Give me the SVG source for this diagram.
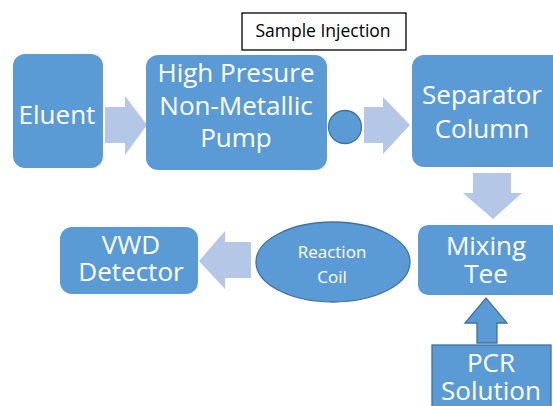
<svg xmlns="http://www.w3.org/2000/svg" width="553" height="406" viewBox="0 0 553 406">
  <style>
    .box { fill: #5b9bd5; }
    .edged { fill: #5b9bd5; stroke: #41719c; stroke-width: 1.3; }
    .flow { fill: #b4c7e7; }
    .lbl { font-family: "Open Sans", "Liberation Sans", sans-serif; font-size: 26px; fill: #ffffff; text-anchor: middle; }
    .tight { font-size: 25px; }
    .small { font-size: 17px; }
    .note { font-family: "Open Sans", "Liberation Sans", sans-serif; font-size: 17.5px; fill: #000000; text-anchor: middle; }
  </style>
  <rect width="553" height="406" fill="#ffffff"/>

  <g id="connectors">
    <!-- Eluent -> Pump -->
    <polygon class="flow" points="105,107 125,107 125,96 147,125 125,155 125,143 105,143"/>
    <!-- Injection valve -> Separator -->
    <polygon class="flow" points="364,107 383,107 383,97 410,125 383,154 383,143 364,143"/>
    <!-- Separator -> Mixing Tee -->
    <polygon class="flow" points="473,173 511,173 511,193 522,193 493,219 463,193 473,193"/>
    <!-- Reaction Coil -> Detector -->
    <polygon class="flow" points="251,242 225,242 225,231 199,261 225,289 225,278 251,278"/>
    <!-- PCR Solution -> Mixing Tee -->
    <polygon class="edged" points="477,343 477,323 465,323 486,298 507,323 497,323 497,343"/>
  </g>

  <g id="sample-injection">
    <rect x="242" y="13" width="164" height="37" fill="#ffffff" stroke="#000000" stroke-width="1.3"/>
    <text class="note" x="323" y="37">Sample Injection</text>
  </g>

  <g id="eluent">
    <rect class="box" x="13" y="54" width="90" height="114" rx="12"/>
    <text class="lbl" x="57" y="124">Eluent</text>
  </g>

  <g id="pump">
    <rect class="box" x="146" y="55" width="181" height="115" rx="12"/>
    <text class="lbl" x="236" y="82">High Presure</text>
    <text class="lbl" x="236" y="115">Non-Metallic</text>
    <text class="lbl" x="236" y="147">Pump</text>
  </g>

  <g id="injection-valve">
    <circle class="edged" cx="345" cy="127" r="16.5"/>
  </g>

  <g id="separator">
    <rect class="box" x="412" y="55" width="152" height="112" rx="12"/>
    <text class="lbl" x="482" y="104">Separator</text>
    <text class="lbl" x="482" y="138">Column</text>
  </g>

  <g id="mixing-tee">
    <rect class="box" x="418" y="225" width="146" height="70" rx="10"/>
    <text class="lbl" x="486" y="255">Mixing</text>
    <text class="lbl" x="486" y="283">Tee</text>
  </g>

  <g id="pcr-solution">
    <rect class="edged" x="432" y="345" width="119" height="70"/>
    <text class="lbl" x="491" y="372">PCR</text>
    <text class="lbl" x="491" y="400">Solution</text>
  </g>

  <g id="reaction-coil">
    <ellipse class="edged" cx="333" cy="262" rx="77" ry="40"/>
    <text class="lbl small" x="332" y="258">Reaction</text>
    <text class="lbl small" x="332" y="283">Coil</text>
  </g>

  <g id="detector">
    <rect class="box" x="60" y="227" width="138" height="67" rx="12"/>
    <text class="lbl" x="131" y="254">VWD</text>
    <text class="lbl" x="131" y="281">Detector</text>
  </g>
</svg>
